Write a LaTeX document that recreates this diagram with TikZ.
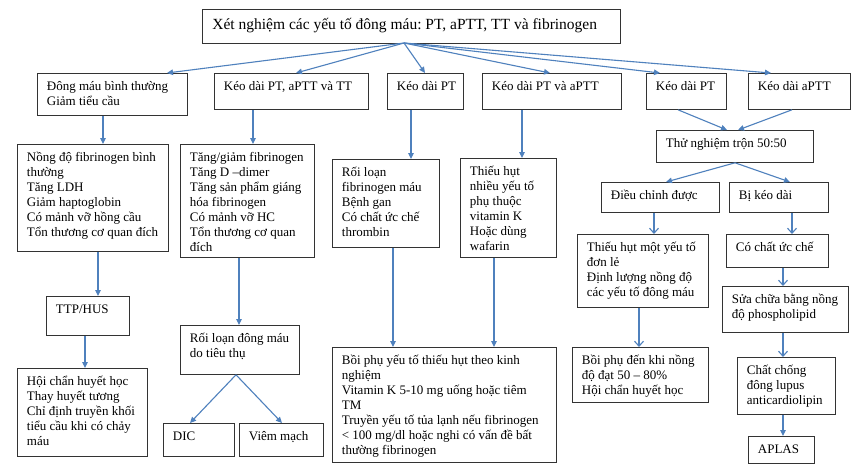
\documentclass[tikz,border=0pt]{standalone}
\usepackage{fontspec}
\setmainfont{Liberation Serif}
\usetikzlibrary{arrows.meta}
\definecolor{arrc}{HTML}{4F81BD}
\definecolor{boxc}{HTML}{333333}
\frenchspacing
\newcommand\boxtext[3]{\begin{minipage}[t][#2pt][t]{#1pt}\raggedright\leftskip=9.5pt\relax\vspace{4pt}\rule{0pt}{13pt}#3\end{minipage}}
\newcommand\titletext[3]{\begin{minipage}[t][#2pt][t]{#1pt}\raggedright\leftskip=10pt\relax\vspace{5pt}\rule{0pt}{15pt}#3\end{minipage}}
\tikzset{
  box/.style={draw=boxc, line width=0.8pt, inner sep=0pt, anchor=north west, font=\fontsize{13}{15}\selectfont},
  titlebox/.style={draw=boxc, line width=0.8pt, inner sep=0pt, anchor=north west, font=\fontsize{15.5}{18}\selectfont},
  arr/.style={draw=arrc, line width=1.1pt, -{Triangle[length=6pt,width=5.5pt]}},
  oarr/.style={draw=arrc, line width=1.1pt, -{Straight Barb[length=5pt,width=9pt]}}
}
\begin{document}
\begin{tikzpicture}[x=1pt,y=-1pt]
\useasboundingbox (0,0) rectangle (856,471);
\fill[white] (0,0) rectangle (856,471);
% title
\node[titlebox] (title) at (202,9) {\titletext{418}{34}{Xét nghiệm các yếu tố đông máu: PT, aPTT, TT và fibrinogen}};
\coordinate (tO) at (404,43);
% row 2
\node[box] (A) at (37,73) {\boxtext{150}{42}{Đông máu bình thường\\Giảm tiểu cầu}};
\node[box] (B) at (214,73) {\boxtext{154}{36}{Kéo dài PT, aPTT và TT}};
\node[box] (C) at (387,73) {\boxtext{76}{36}{Kéo dài PT}};
\node[box] (D) at (482,73) {\boxtext{139}{36}{Kéo dài PT và aPTT}};
\node[box] (E) at (646,73) {\boxtext{80}{36}{Kéo dài PT}};
\node[box] (F) at (748,73) {\boxtext{102}{36}{Kéo dài aPTT}};
% right column
\node[box] (Mix) at (656,130) {\boxtext{157}{32}{Thử nghiệm trộn 50:50}};
\node[box] (Corr) at (601,182) {\boxtext{118}{30}{Điều chỉnh được}};
\node[box] (Prol) at (729,182) {\boxtext{99}{30}{Bị kéo dài}};
\node[box] (Single) at (577,234) {\boxtext{131}{73}{Thiếu hụt một yếu tố\\đơn lẻ\\Định lượng nồng độ\\các yếu tố đông máu}};
\node[box] (Inhib) at (726,234) {\boxtext{102}{33}{Có chất ức chế}};
\node[box] (Phos) at (722,286) {\boxtext{126}{46}{Sửa chữa bằng nồng\\độ phospholipid}};
\node[box] (Lupus) at (737,357) {\boxtext{98}{57}{Chất chống\\đông lupus\\anticardiolipin}};
\node[box] (Aplas) at (748,436) {\boxtext{66}{27}{APLAS}};
\node[box] (Restore2) at (572,347) {\boxtext{136}{55}{Bồi phụ đến khi nồng\\độ đạt 50 – 80\%\\Hội chẩn huyết học}};
% left column
\node[box] (Norm) at (17,144) {\boxtext{151}{107}{Nồng độ fibrinogen bình\\thường\\Tăng LDH\\Giảm haptoglobin\\Có mảnh vỡ hồng cầu\\Tổn thương cơ quan đích}};
\node[box] (Dic1) at (180,144) {\boxtext{134}{113}{Tăng/giảm fibrinogen\\Tăng D –dimer\\Tăng sản phẩm giáng\\hóa fibrinogen\\Có mảnh vỡ HC\\Tổn thương cơ quan\\đích}};
\node[box] (TTP) at (46,296) {\boxtext{83}{39}{TTP/HUS}};
\node[box] (Hoi) at (17,368) {\boxtext{130}{88}{Hội chẩn huyết học\\Thay huyết tương\\Chỉ định truyền khối\\tiểu cầu khi có chảy\\máu}};
\node[box] (Consum) at (180,325) {\boxtext{119}{49}{Rối loạn đông máu\\do tiêu thụ}};
\node[box] (DIC) at (163,423) {\boxtext{71}{33}{DIC}};
\node[box] (Vasc) at (239,423) {\boxtext{84}{33}{Viêm mạch}};
% middle
\node[box] (Fib) at (332,159) {\boxtext{107}{88}{Rối loạn\\fibrinogen máu\\Bệnh gan\\Có chất ức chế\\thrombin}};
\node[box] (VitK) at (460,158) {\boxtext{96}{99}{Thiếu hụt\\nhiều yếu tố\\phụ thuộc\\vitamin K\\Hoặc dùng\\wafarin}};
\node[box] (Restore1) at (332,347) {\boxtext{224}{115}{Bồi phụ yếu tố thiếu hụt theo kinh\\nghiệm\\Vitamin K 5-10 mg uống hoặc tiêm\\TM\\Truyền yếu tố tủa lạnh nếu fibrinogen\\< 100 mg/dl hoặc nghi có vấn đề bất\\thường fibrinogen}};
% arrows from title
\draw[arr] (tO) -- ([xshift=130pt]A.north west);
\draw[arr] (tO) -- ([xshift=82pt]B.north west);
\draw[arr] (tO) -- ([xshift=38pt]C.north west);
\draw[arr] (tO) -- ([xshift=68pt]D.north west);
\draw[arr] (tO) -- ([xshift=14pt]E.north west);
\draw[arr] (tO) -- ([xshift=23pt]F.north west);
% vertical arrows
\draw[arr] ([xshift=66pt]A.south west) -- ([xshift=66pt]A.south west |- Norm.north);
\draw[arr] ([xshift=39pt]B.south west) -- ([xshift=39pt]B.south west |- Dic1.north);
\draw[arr] ([xshift=24pt]C.south west) -- ([xshift=24pt]C.south west |- Fib.north);
\draw[arr] ([xshift=40pt]D.south west) -- ([xshift=40pt]D.south west |- VitK.north);
\draw[arr] ([xshift=32pt]E.south west) -- ([xshift=71pt]Mix.north west);
\draw[arr] ([xshift=44pt]F.south west) -- ([xshift=82pt]Mix.north west);
\draw[arr] ([xshift=79pt]Mix.south west) -- ([xshift=65pt]Corr.north west);
\draw[arr] ([xshift=79pt]Mix.south west) -- ([xshift=61pt]Prol.north west);
\draw[oarr] ([xshift=53pt]Corr.south west) -- ([xshift=53pt]Corr.south west |- Single.north);
\draw[oarr] ([xshift=63pt]Prol.south west) -- ([xshift=63pt]Prol.south west |- Inhib.north);
\draw[oarr] ([xshift=57pt]Inhib.south west) -- ([xshift=57pt]Inhib.south west |- Phos.north);
\draw[oarr] ([xshift=62pt]Single.south west) -- ([xshift=62pt]Single.south west |- Restore2.north);
\draw[oarr] ([xshift=61pt]Phos.south west) -- ([xshift=61pt]Phos.south west |- Lupus.north);
\draw[arr] ([xshift=46pt]Lupus.south west) -- ([xshift=46pt]Lupus.south west |- Aplas.north);
\draw[arr] ([xshift=81pt]Norm.south west) -- ([xshift=81pt]Norm.south west |- TTP.north);
\draw[arr] ([xshift=39pt]TTP.south west) -- ([xshift=39pt]TTP.south west |- Hoi.north);
\draw[arr] ([xshift=59pt]Dic1.south west) -- ([xshift=59pt]Dic1.south west |- Consum.north);
\draw[arr] ([xshift=56pt]Consum.south west) -- ([xshift=27pt]DIC.north west);
\draw[arr] ([xshift=56pt]Consum.south west) -- ([xshift=43pt]Vasc.north west);
\draw[arr] ([xshift=61pt]Fib.south west) -- ([xshift=61pt]Fib.south west |- Restore1.north);
\draw[arr] ([xshift=34pt]VitK.south west) -- ([xshift=34pt]VitK.south west |- Restore1.north);
\end{tikzpicture}
\end{document}
